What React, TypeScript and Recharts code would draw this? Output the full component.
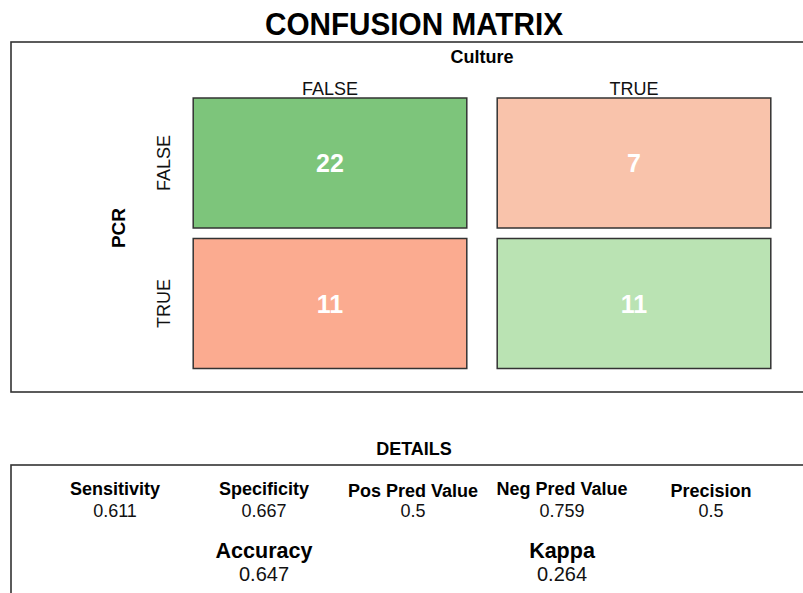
import React from 'react';
import { ScatterChart, XAxis, YAxis, Scatter, ReferenceArea } from 'recharts';

// ---- data ----
const chartTitle = 'CONFUSION MATRIX';
const colAxisTitle = 'Culture';
const rowAxisTitle = 'PCR';
const colLabels = ['FALSE', 'TRUE'];
const rowLabels = ['FALSE', 'TRUE'];
const cellRows = [0, 0, 1, 1];
const cellCols = [0, 1, 0, 1];
const cellCounts = [22, 7, 11, 11];

const detailsTitle = 'DETAILS';
const detailNames = ['Sensitivity', 'Specificity', 'Pos Pred Value', 'Neg Pred Value', 'Precision'];
const detailValues = [0.611, 0.667, 0.5, 0.759, 0.5];
const summaryNames = ['Accuracy', 'Kappa'];
const summaryValues = [0.647, 0.264];

// ---- styles ----
const FONT = '"Liberation Sans", Arial, Helvetica, sans-serif';
const cellFills = ['#7dc57b', '#f9c3ab', '#fbab90', '#bae3b3'];
const X_INSET = 0.05;
const Y_INSET = 0.037;
const X_AXIS_H = 30;
const Y_AXIS_W = 60;

const cells = cellCounts.map((count, i) => ({
  x: cellCols[i] + 0.5,
  y: cellRows[i] + 0.5,
  row: cellRows[i],
  col: cellCols[i],
  count,
  fill: cellFills[i],
}));

const colTicks = colLabels.map((_, i) => i + 0.5);
const rowTicks = rowLabels.map((_, i) => i + 0.5);

const ColTick = (props: any) => {
  const { x, y, payload } = props;
  const label = colLabels[Math.floor(payload.value)];
  return (
    <text x={x} y={y + 2.5} textAnchor="middle" fontFamily={FONT} fontSize={18} fill="#111">
      {label}
    </text>
  );
};

const RowTick = (props: any) => {
  const { x, y, payload } = props;
  const label = rowLabels[Math.floor(payload.value)];
  const bx = x - 8;
  return (
    <text
      x={bx}
      y={y}
      transform={`rotate(-90, ${bx}, ${y})`}
      textAnchor="middle"
      fontFamily={FONT}
      fontSize={18}
      fill="#111"
    >
      {label}
    </text>
  );
};

const CountShape = (props: any) => {
  const { cx, cy, payload } = props;
  return (
    <text
      x={cx}
      y={cy + 9}
      textAnchor="middle"
      fontFamily={FONT}
      fontWeight="bold"
      fontSize={25}
      fill="#ffffff"
    >
      {payload.count}
    </text>
  );
};

const DETAIL_X0 = 115;
const DETAIL_DX = 149;
const hasDescender = (s: string) => /[gjpqy]/.test(s);

export default function App() {
  return (
    <div
      style={{
        position: 'absolute',
        left: 0,
        top: 0,
        width: 803,
        height: 593,
        background: '#ffffff',
        overflow: 'hidden',
      }}
    >
      <svg
        width={803}
        height={593}
        style={{ position: 'absolute', left: 0, top: 0 }}
      >
        <text
          x={414}
          y={35}
          textAnchor="middle"
          fontFamily={FONT}
          fontWeight="bold"
          fontSize={31}
          textLength={298}
          lengthAdjust="spacingAndGlyphs"
          fill="#000"
        >
          {chartTitle}
        </text>
        <rect x={11} y={42} width={806} height={350} fill="none" stroke="#333" strokeWidth={1.6} />
        <text x={482} y={63} textAnchor="middle" fontFamily={FONT} fontWeight="bold" fontSize={18} fill="#000">
          {colAxisTitle}
        </text>
        <text
          x={125}
          y={228}
          transform="rotate(-90, 125, 228)"
          textAnchor="middle"
          fontFamily={FONT}
          fontWeight="bold"
          fontSize={19}
          fill="#000"
        >
          {rowAxisTitle}
        </text>

        <text x={414} y={455} textAnchor="middle" fontFamily={FONT} fontWeight="bold" fontSize={18} fill="#000">
          {detailsTitle}
        </text>
        <rect x={11} y={465} width={806} height={200} fill="none" stroke="#333" strokeWidth={1.6} />
        {detailNames.map((name, i) => (
          <g key={name}>
            <text
              x={DETAIL_X0 + i * DETAIL_DX}
              y={hasDescender(name) ? 495 : 497}
              textAnchor="middle"
              fontFamily={FONT}
              fontWeight="bold"
              fontSize={18}
              fill="#000"
            >
              {name}
            </text>
            <text
              x={DETAIL_X0 + i * DETAIL_DX}
              y={517}
              textAnchor="middle"
              fontFamily={FONT}
              fontSize={18}
              fill="#111"
            >
              {String(detailValues[i])}
            </text>
          </g>
        ))}
        {summaryNames.map((name, i) => (
          <g key={name}>
            <text
              x={DETAIL_X0 + (1 + 2 * i) * DETAIL_DX}
              y={558}
              textAnchor="middle"
              fontFamily={FONT}
              fontWeight="bold"
              fontSize={21.5}
              fill="#000"
            >
              {name}
            </text>
            <text
              x={DETAIL_X0 + (1 + 2 * i) * DETAIL_DX}
              y={581}
              textAnchor="middle"
              fontFamily={FONT}
              fontSize={20}
              fill="#111"
            >
              {String(summaryValues[i])}
            </text>
          </g>
        ))}
      </svg>

      <div style={{ position: 'absolute', left: 0, top: 0 }}>
        <ScatterChart
          width={803}
          height={593}
          margin={{ top: 92.75 - X_AXIS_H, right: 17, bottom: 219.25, left: 178 - Y_AXIS_W }}
        >
          <XAxis
            type="number"
            dataKey="x"
            orientation="top"
            domain={[0, 2]}
            ticks={colTicks}
            height={X_AXIS_H}
            axisLine={false}
            tickLine={false}
            tickSize={0}
            tickMargin={0}
            tick={ColTick}
            interval={0}
          />
          <YAxis
            type="number"
            dataKey="y"
            domain={[0, 2]}
            reversed
            ticks={rowTicks}
            width={Y_AXIS_W}
            axisLine={false}
            tickLine={false}
            tickSize={0}
            tickMargin={0}
            tick={RowTick}
            interval={0}
          />
          {cells.map((c) => (
            <ReferenceArea
              key={`${c.row}-${c.col}`}
              x1={c.col + X_INSET}
              x2={c.col + 1 - X_INSET}
              y1={c.row + Y_INSET}
              y2={c.row + 1 - Y_INSET}
              fill={c.fill}
              fillOpacity={1}
              stroke="#333"
              strokeWidth={1.5}
              strokeOpacity={1}
            />
          ))}
          <Scatter data={cells} isAnimationActive={false} shape={<CountShape />} />
        </ScatterChart>
      </div>
    </div>
  );
}
